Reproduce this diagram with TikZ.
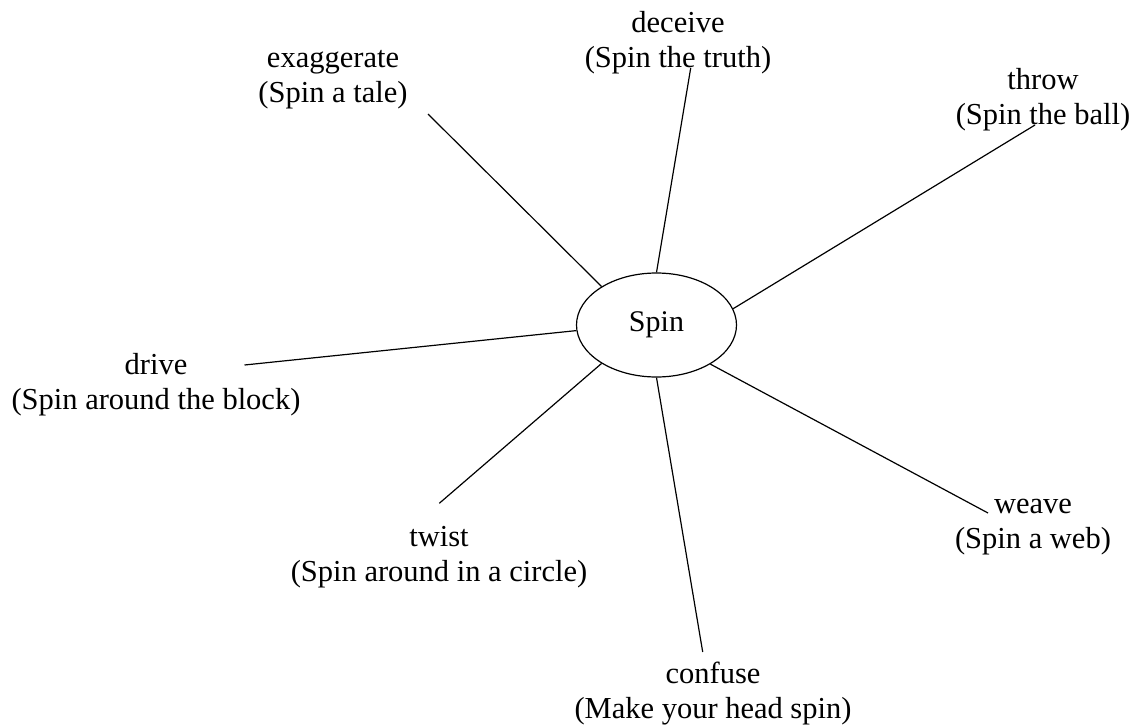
\documentclass[tikz,border=0pt]{standalone}
\usepackage{fontspec}
\setmainfont{Liberation Serif}
\usepackage{tikz}
\usetikzlibrary{shapes.geometric}

\tikzset{
	word/.style = {anchor=base, align=center, inner sep=0pt, font=\fontsize{30.5}{35}\selectfont},
	hub/.style = {draw, ellipse, minimum width=160pt, minimum height=104pt, inner sep=0pt, font=\fontsize{30}{35}\selectfont}
}

\begin{document}
\begin{tikzpicture}[x=1pt, y=-1pt, line width=1.2pt]
	\useasboundingbox (0,0) rectangle (1133,728);
	\node [hub] (spin) at (656.5,325) {Spin};
	\node [word] (exaggerate) at (333,102) {exaggerate\\(Spin a tale)};
	\node [word] (deceive) at (678,67) {deceive\\(Spin the truth)};
	\node [word] (throw) at (1043,124) {throw\\(Spin the ball)};
	\node [word] (drive) at (156,409) {drive\\(Spin around the block)};
	\node [word] (twist) at (439,581) {twist\\(Spin around in a circle)};
	\node [word] (confuse) at (713,718) {confuse\\(Make your head spin)};
	\node [word] (weave) at (1033,548) {weave\\(Spin a web)};
	\coordinate (exaggerate end) at (428,114);
	\coordinate (deceive end) at (690.7,68);
	\coordinate (throw end) at (1035,125);
	\coordinate (drive end) at (244.5,365);
	\coordinate (twist end) at (439.3,503.3);
	\coordinate (confuse end) at (702.7,652);
	\coordinate (weave end) at (988,513);
	\draw (exaggerate end) -- (spin.145.2);
	\draw (deceive end) -- (spin.90);
	\draw (throw end) -- (spin.12);
	\draw (drive end) -- (spin.184.8);
	\draw (twist end) -- (spin.215.4);
	\draw (confuse end) -- (spin.270);
	\draw (weave end) -- (spin.324.8);
\end{tikzpicture}
\end{document}
